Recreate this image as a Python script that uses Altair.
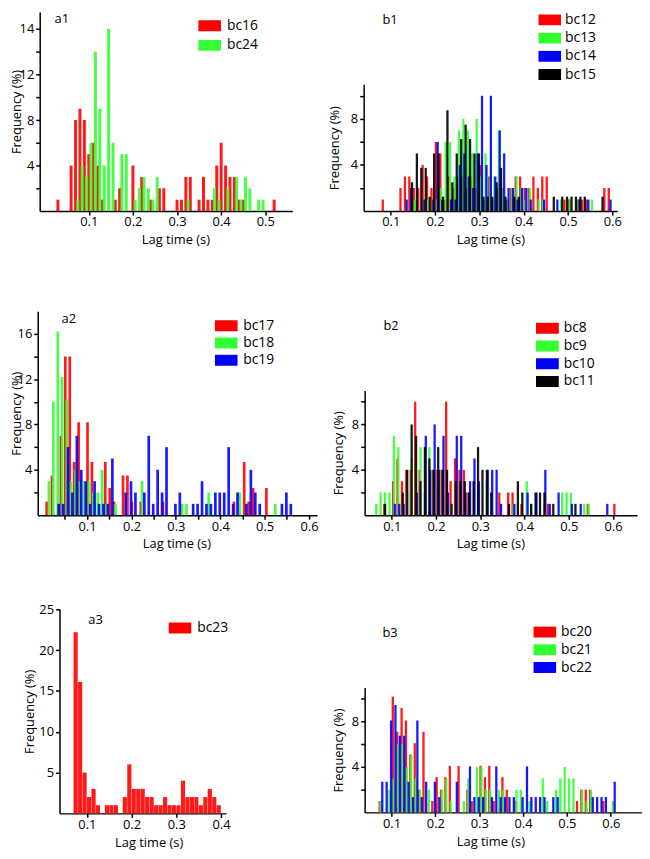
import altair as alt
import pandas as pd

FONT = "Open Sans"
RED, GREEN, BLUE, BLACK = "#ff0000", "#33ff33", "#0000ff", "#000000"
RECT = "M-1,-0.48H1V0.48H-1Z"

# ---------------- a1 ----------------
a1_bc16_x = [0.03, 0.06, 0.07, 0.08, 0.09, 0.10, 0.11, 0.12, 0.13, 0.16, 0.17, 0.20, 0.22, 0.24, 0.26, 0.27,
             0.30, 0.31, 0.32, 0.33, 0.35, 0.36, 0.37, 0.38, 0.39, 0.40, 0.41, 0.42, 0.43, 0.44, 0.45, 0.52]
a1_bc16_y = [1, 4, 8, 9, 8, 5, 6, 4, 1, 1, 2, 4, 3, 1, 2, 2,
             1, 1, 3, 3, 1, 3, 1, 1, 4, 6, 4, 3, 3, 1, 1, 1]
a1_bc24_x = [0.075, 0.085, 0.095, 0.105, 0.115, 0.125, 0.135, 0.145, 0.155, 0.175, 0.185, 0.205, 0.215, 0.225,
             0.235, 0.245, 0.255, 0.325, 0.385, 0.395, 0.415, 0.435, 0.445, 0.455, 0.465, 0.485, 0.495]
a1_bc24_y = [1, 4, 3, 6, 14, 9, 4, 16, 6, 5, 5, 1, 2, 3, 2, 1, 3, 1, 2, 1, 2, 3, 1, 3, 2, 1, 1]

# ---------------- a2 ----------------
a2_bc17_x = [0.009, 0.021, 0.041, 0.051, 0.061, 0.071, 0.081, 0.101, 0.111, 0.141, 0.151, 0.161, 0.181, 0.191,
             0.201, 0.221, 0.271, 0.431, 0.454, 0.464, 0.474, 0.504]
a2_bc17_y = [1.2, 3.5, 7, 14, 14, 4.7, 8.2, 8.2, 4.7, 4.7, 2.4, 1.2, 3.5, 3.5, 1.2, 1.2, 1.2, 1.2, 4.7, 1.2, 2.4, 2.4]
a2_bc18_x = [0.014, 0.024, 0.034, 0.044, 0.054, 0.064, 0.074, 0.084, 0.094, 0.104, 0.114, 0.124, 0.134, 0.144,
             0.164, 0.224, 0.314, 0.324, 0.374, 0.444, 0.524]
a2_bc18_y = [3, 10, 16.2, 12.2, 10.2, 3, 4, 3, 3, 3, 2, 2, 4, 1, 1, 3, 1, 1, 2, 2, 1]
a2_bc19_x = [0.036, 0.046, 0.057, 0.067, 0.077, 0.087, 0.097, 0.107, 0.117, 0.127, 0.137, 0.147, 0.157, 0.187,
             0.199, 0.209, 0.229, 0.239, 0.249, 0.259, 0.269, 0.279, 0.299, 0.309, 0.339, 0.349, 0.359, 0.369,
             0.379, 0.389, 0.399, 0.409, 0.419, 0.429, 0.439, 0.459, 0.469, 0.479, 0.489, 0.539, 0.549, 0.559]
a2_bc19_y = [1, 1, 6, 2, 7, 4, 3, 1, 3, 1, 1, 1, 5, 2, 3, 2, 2, 7, 1, 4, 2, 6, 1, 2, 1, 1, 3, 1,
             1, 2, 2, 2, 6, 1, 2, 1, 4, 2, 1, 1, 2, 1]

# ---------------- a3 ----------------
a3_bc23_x = [0.075, 0.085, 0.095, 0.105, 0.115, 0.125, 0.145, 0.155, 0.165, 0.185, 0.195, 0.205, 0.215, 0.225,
             0.235, 0.245, 0.255, 0.265, 0.275, 0.285, 0.295, 0.305, 0.315, 0.325, 0.335, 0.345, 0.355, 0.365,
             0.375, 0.385, 0.395]
a3_bc23_y = [22.2, 16.1, 5, 2, 3, 1, 1, 1, 1, 2, 6, 3, 3, 3, 2, 2, 1, 1, 2, 1, 1, 1, 4, 2, 2, 2, 1, 2, 3, 2, 1]

# ---------------- b1 ----------------
b1_bc12_x = [0.082, 0.122, 0.132, 0.142, 0.152, 0.162, 0.172, 0.182, 0.192, 0.202, 0.212, 0.222, 0.232, 0.242,
             0.252, 0.262, 0.272, 0.282, 0.292, 0.302, 0.312, 0.322, 0.332, 0.342, 0.352, 0.362, 0.372, 0.382,
             0.392, 0.402, 0.412, 0.422, 0.432, 0.442, 0.452, 0.492, 0.502, 0.522, 0.532, 0.542, 0.582, 0.592]
b1_bc12_y = [1, 2, 3, 3, 2, 2, 4, 3, 2, 6, 5, 1, 3, 2, 3, 3, 2, 3, 2, 4, 1, 3, 1, 2, 2, 1, 2, 3,
             3, 2, 2, 3, 2, 3, 3, 1, 1, 1, 1, 1, 2, 2]
b1_bc13_x = [0.154, 0.184, 0.204, 0.214, 0.224, 0.234, 0.244, 0.254, 0.264, 0.274, 0.284, 0.294, 0.304, 0.314,
             0.324, 0.334, 0.344, 0.354, 0.364, 0.374, 0.384, 0.394, 0.404, 0.414, 0.434, 0.444, 0.484, 0.504,
             0.524, 0.554]
b1_bc13_y = [1, 1, 1, 2, 6, 6, 3, 7, 8, 7, 5, 8, 3, 5, 3, 3, 7, 2, 1, 2, 3, 2, 1, 2, 1, 1, 1, 1, 1, 1]
b1_bc14_x = [0.136, 0.146, 0.176, 0.196, 0.206, 0.216, 0.236, 0.246, 0.256, 0.266, 0.276, 0.286, 0.296, 0.306,
             0.316, 0.326, 0.336, 0.346, 0.356, 0.366, 0.376, 0.386, 0.396, 0.406, 0.416, 0.446, 0.476, 0.526,
             0.546, 0.596]
b1_bc14_y = [1, 2, 1, 1, 6, 1, 1, 1, 4, 5, 3, 2, 5, 10, 4, 10, 3, 7, 5, 2, 2, 1, 2, 2, 1, 1, 1, 1, 1, 1]
b1_bc15_x = [0.148, 0.159, 0.169, 0.179, 0.188, 0.198, 0.208, 0.218, 0.228, 0.239, 0.249, 0.259, 0.269, 0.279,
             0.289, 0.299, 0.309, 0.319, 0.329, 0.339, 0.349, 0.359, 0.379, 0.389, 0.468, 0.487, 0.498, 0.508,
             0.518, 0.528, 0.538, 0.578]
b1_bc15_y = [2.5, 5, 3.75, 3.75, 1.25, 5, 5, 1.25, 8.75, 2.5, 5, 6.25, 7.5, 6.25, 5, 5, 1.25, 1.25, 1.25, 2.5,
             3.75, 1.25, 1.25, 1.25, 1.25, 1.25, 1.25, 1.25, 1.25, 1.25, 1.25, 1.25]

# ---------------- b2 ----------------
b2_bc8_x = [0.083, 0.103, 0.113, 0.123, 0.133, 0.143, 0.153, 0.163, 0.193, 0.203, 0.213, 0.223, 0.233, 0.243,
            0.253, 0.263, 0.273, 0.343, 0.363, 0.373, 0.393, 0.453, 0.543, 0.603]
b2_bc8_y = [1, 3, 5, 3, 4, 4, 10, 4, 4, 4, 4, 10, 3, 5, 4, 4, 2, 2, 2, 2, 1, 1, 1, 1]
b2_bc9_x = [0.065, 0.075, 0.085, 0.095, 0.105, 0.115, 0.125, 0.135, 0.145, 0.155, 0.165, 0.175, 0.185, 0.195,
            0.205, 0.215, 0.235, 0.255, 0.275, 0.295, 0.315, 0.325, 0.375, 0.385, 0.405, 0.415, 0.445, 0.485,
            0.495, 0.505, 0.535, 0.545]
b2_bc9_y = [1, 2, 2, 2, 7, 6, 1, 2, 5, 4, 6, 2, 6, 4, 3, 4, 1, 3, 1, 2, 3, 2, 1, 1, 3, 1, 1, 2, 2, 2, 1, 1]
b2_bc10_x = [0.107, 0.117, 0.127, 0.157, 0.177, 0.187, 0.197, 0.207, 0.217, 0.227, 0.247, 0.257, 0.267, 0.277,
             0.287, 0.297, 0.317, 0.327, 0.337, 0.347, 0.377, 0.407, 0.427, 0.447, 0.457, 0.477, 0.507, 0.527,
             0.587]
b2_bc10_y = [1, 1, 1, 2, 7, 4, 8, 4, 7, 2, 7, 7, 2, 3, 5, 3, 4, 4, 4, 1, 1, 2, 2, 4, 1, 2, 1, 1, 1]
b2_bc11_x = [0.085, 0.125, 0.135, 0.145, 0.155, 0.165, 0.175, 0.185, 0.195, 0.205, 0.215, 0.225, 0.235, 0.245,
             0.255, 0.265, 0.275, 0.285, 0.295, 0.305, 0.315, 0.325, 0.365, 0.385, 0.395, 0.415, 0.425, 0.435,
             0.445, 0.465, 0.515]
b2_bc11_y = [1, 2, 4, 8, 7, 3, 6, 5, 4, 6, 4, 4, 1, 3, 3, 3, 2, 3, 6, 4, 4, 2, 1, 3, 2, 1, 2, 2, 2, 1, 1]

# ---------------- b3 ----------------
b3_bc20_x = [0.073, 0.103, 0.113, 0.123, 0.133, 0.143, 0.153, 0.163, 0.173, 0.193, 0.203, 0.213, 0.223, 0.233,
             0.253, 0.273, 0.283, 0.303, 0.313, 0.323, 0.333, 0.353, 0.363, 0.383, 0.523, 0.533, 0.543, 0.553,
             0.583]
b3_bc20_y = [1, 10.2, 7.1, 9.2, 8.1, 5.1, 6.1, 2, 7.1, 1, 3.1, 2, 3.1, 4.1, 4.1, 2, 1, 4.1, 3.1, 4.1, 1, 3.1, 2,
             1, 1, 2, 2, 2, 1]
b3_bc21_x = [0.075, 0.095, 0.105, 0.115, 0.125, 0.135, 0.145, 0.155, 0.165, 0.185, 0.215, 0.225, 0.235, 0.265,
             0.275, 0.295, 0.305, 0.315, 0.325, 0.345, 0.355, 0.385, 0.395, 0.415, 0.445, 0.455, 0.475, 0.485,
             0.495, 0.505, 0.515, 0.535, 0.545, 0.555, 0.605]
b3_bc21_y = [1, 2, 3, 6, 6, 4, 5, 3, 2, 2, 2, 3, 1, 1, 3, 4, 4, 2, 2, 2, 2, 2, 2, 1, 3, 1, 2, 3, 4, 3, 3, 2, 1,
             2, 1]
b3_bc22_x = [0.079, 0.089, 0.099, 0.109, 0.119, 0.129, 0.139, 0.149, 0.159, 0.169, 0.179, 0.199, 0.209, 0.249,
             0.279, 0.289, 0.299, 0.309, 0.329, 0.339, 0.349, 0.359, 0.369, 0.379, 0.399, 0.409, 0.419, 0.429,
             0.439, 0.449, 0.469, 0.479, 0.559, 0.569, 0.579, 0.589, 0.609]
b3_bc22_y = [2.7, 2.7, 8.1, 9.46, 6.76, 6.76, 2.7, 1.35, 8.1, 1.35, 2.7, 2.7, 1.35, 2.7, 4.05, 1.35, 1.35, 1.35,
             1.35, 4.05, 1.35, 1.35, 1.35, 1.35, 1.35, 4.05, 1.35, 1.35, 1.35, 1.35, 1.35, 1.35, 1.35, 1.35,
             1.35, 1.35, 2.7]

X_TENTHS = [0.1, 0.2, 0.3, 0.4, 0.5, 0.6]
Y_EVEN_16 = [2, 4, 6, 8, 10, 12, 14, 16]
Y_EVEN_10 = [2, 4, 6, 8, 10]
EVERY_4 = "datum.value % 4 == 0 ? datum.label : ''"

# whole drawing area (pixels), each panel gets its own rectangle inside it
W, H = 640, 837


def panel(series, label, box, xdom, ydom, xticks, yticks, ylabel_expr, bar,
          label_pos, ytitle_dx, xtitle_x, leg, xlabel_expr=None):
    x0, y0, x1, y1 = box  # left, top, right, bottom of the plot rectangle
    rows = []
    for name, _c, xs, ys in series:
        rows += [{"series": name, "lag": x, "freq": y} for x, y in zip(xs, ys)]
    df = pd.DataFrame(rows)
    names = [s[0] for s in series]
    colors = [s[1] for s in series]
    xkw = dict(values=xticks, orient="bottom", offset=y1 - H, title="Lag time (s)", titleX=xtitle_x,
               titleY=23, titleBaseline="top", labelPadding=1, labelFlush=False, labelOverlap=False)
    if xlabel_expr:
        xkw["labelExpr"] = xlabel_expr
    else:
        xkw["format"] = ".1f"
    ykw = dict(values=yticks, orient="left", offset=-x0, title="Frequency (%)", titleX=ytitle_dx,
               titleBaseline="middle", labelFlush=False, labelOverlap=False)
    if ylabel_expr:
        ykw["labelExpr"] = ylabel_expr
    lx, ly, row_pad, lab_off = leg
    bars = alt.Chart(df).mark_bar(size=bar, opacity=0.9).encode(
        x=alt.X("lag:Q", scale=alt.Scale(domain=xdom, range=[x0, x1], nice=False, zero=False),
                axis=alt.Axis(**xkw)),
        y=alt.Y("freq:Q", stack=None, scale=alt.Scale(domain=ydom, range=[y1, y0], nice=False),
                axis=alt.Axis(**ykw)),
        color=alt.Color("series:N", scale=alt.Scale(domain=names, range=colors),
                        legend=alt.Legend(orient="none", legendX=lx, legendY=ly, title=None,
                                          direction="vertical", symbolType=RECT, symbolSize=529,
                                          symbolStrokeWidth=0, symbolOpacity=1, labelFont=FONT,
                                          labelFontSize=14, labelColor="black", labelOffset=lab_off,
                                          clipHeight=12, rowPadding=row_pad, padding=0)),
    )
    tag = alt.Chart(pd.DataFrame({"t": [label]})).mark_text(
        align="left", baseline="middle", font=FONT, fontSize=13, color="black"
    ).encode(text="t:N", x=alt.value(label_pos[0]), y=alt.value(label_pos[1]))
    return alt.layer(bars, tag)


a1 = panel([("bc16", RED, a1_bc16_x, a1_bc16_y), ("bc24", GREEN, a1_bc24_x, a1_bc24_y)],
           "a1", (32, 0, 287, 201), [0, 0.55], [0, 17.5], [0.1, 0.2, 0.3, 0.4, 0.5], Y_EVEN_16,
           "datum.value == 16 ? '14' : (datum.value % 4 == 0 ? datum.label : '')", 3,
           (47, 7), -23, 169, (192, 8, 5.7, 6))

a2_x = [round(0.05 * i, 2) for i in range(1, 13)]
a2 = panel([("bc17", RED, a2_bc17_x, a2_bc17_y), ("bc18", GREEN, a2_bc18_x, a2_bc18_y),
            ("bc19", BLUE, a2_bc19_x, a2_bc19_y)],
           "a2", (30, 302, 312, 508), [0, 0.607], [0, 18], a2_x, Y_EVEN_16, EVERY_4, 2.7,
           (54, 310), -21, 170, (208.7, 310.8, 3.4, 5.7),
           xlabel_expr="abs(datum.value * 10 - round(datum.value * 10)) < 0.001 ? format(datum.value, '.1f') : ''")

a3 = panel([("bc23", RED, a3_bc23_x, a3_bc23_y)],
           "a3", (52, 603, 220, 809), [0.05, 0.4], [0, 25], [0.1, 0.2, 0.3, 0.4], [5, 10, 15, 20, 25],
           None, 4.2, (81, 614), -30, 142, (162, 615.8, 0, 6))

b1 = panel([("bc12", RED, b1_bc12_x, b1_bc12_y), ("bc13", GREEN, b1_bc13_x, b1_bc13_y),
            ("bc14", BLUE, b1_bc14_x, b1_bc14_y), ("bc15", BLACK, b1_bc15_x, b1_bc15_y)],
           "b1", (359, 73, 615, 201), [0.05, 0.6], [0, 11], X_TENTHS, Y_EVEN_10, EVERY_4, 2.3,
           (378, 8), -29, 487, (535.3, 2, 4.4, 4))

b2 = panel([("bc8", RED, b2_bc8_x, b2_bc8_y), ("bc9", GREEN, b2_bc9_x, b2_bc9_y),
            ("bc10", BLUE, b2_bc10_x, b2_bc10_y), ("bc11", BLACK, b2_bc11_x, b2_bc11_y)],
           "b2", (360, 382, 635, 508), [0.05, 0.643], [0, 11], X_TENTHS, Y_EVEN_10, EVERY_4, 2.3,
           (379, 317), -26, 487, (533, 313.3, 3.9, 5))

b3 = panel([("bc20", RED, b3_bc20_x, b3_bc20_y), ("bc21", GREEN, b3_bc21_x, b3_bc21_y),
            ("bc22", BLUE, b3_bc22_x, b3_bc22_y)],
           "b3", (360, 682, 640, 808), [0.05, 0.66], [0, 11], X_TENTHS, Y_EVEN_10, EVERY_4, 2.3,
           (378, 627), -26, 487, (530.3, 620, 3.9, 5))

chart = alt.layer(a1, b1, a2, b2, a3, b3).resolve_scale(
    x="independent", y="independent", color="independent"
).resolve_axis(x="independent", y="independent").resolve_legend(color="independent").properties(
    width=W, height=H, padding=0, background="white"
).configure_view(stroke=None).configure_axis(
    domainColor="black", domainWidth=1.5, tickColor="black", tickWidth=1.5, tickSize=4,
    labelFont=FONT, labelFontSize=13, labelColor="black", labelPadding=2,
    titleFont=FONT, titleFontSize=13, titleFontWeight="normal", titleColor="black", grid=False
)

chart.save("out.html", embed_options={"renderer": "svg", "actions": False})
